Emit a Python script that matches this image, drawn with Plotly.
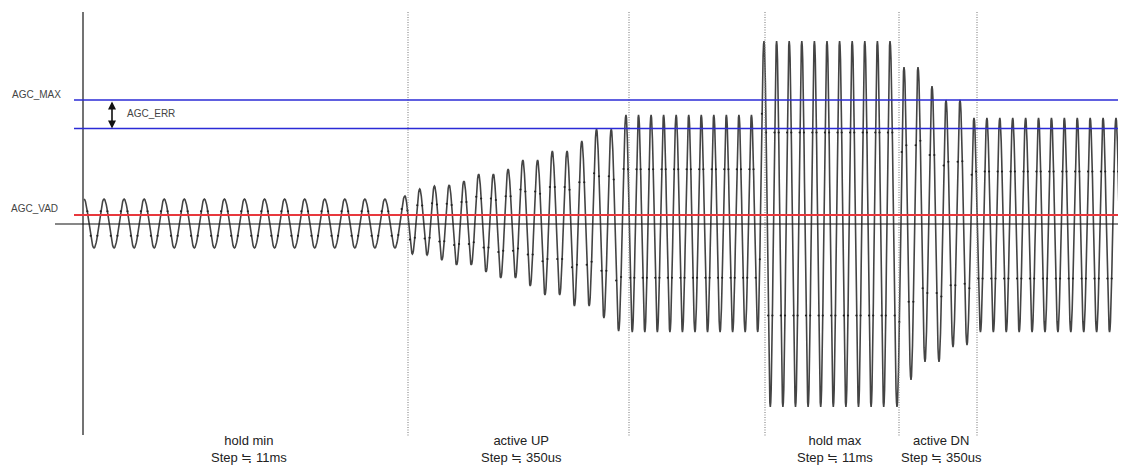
import numpy as np
import plotly.graph_objects as go

# ---------------- data (time in sample ticks, level in display units; 0 = baseline) -------------
SEG_LABELS = ["hold min", "active UP", "hold max", "active DN"]
SEG_STEPS = ["Step ≒ 11ms", "Step ≒ 350us", "Step ≒ 11ms", "Step ≒ 350us"]
SEG_LEFT = [83, 408, 765, 899]
SEG_RIGHT = [408, 629, 899, 977]
MARKER_TIMES = [408, 629, 765, 899, 977]          # dotted phase boundaries

# waveform: time of the first peak of each phase (last entry = final peak)
WAVE_START = [84, 405, 626, 764, 890, 974, 1116]
WAVE_CYCLES = [16, 15, 11, 10, 6, 11]
WAVE_END = 1119
# half-cycle amplitudes per phase (peak, trough, peak, trough, ...) - repeated if shorter
AMP_HOLD_MIN = [25, 24]
AMP_ACTIVE_UP = [28, 30, 35, 31, 38, 36, 39, 41, 43, 41, 50, 48, 50, 54, 55, 54,
                 64, 62, 64, 71, 73, 71, 73, 82, 83, 82, 95, 94, 95, 107]
AMP_HOLD_1 = [109, 108]
AMP_HOLD_MAX = [183, 183]
AMP_ACTIVE_DN = [183, 183, 157, 156, 157, 138, 138, 138, 124, 123, 124, 121]
AMP_SETTLED = [106, 108]

AGC_MAX = 124
AGC_LOW = 95.5
AGC_VAD = 9

# ---------------- build waveform from the extremes ----------------
amps = [AMP_HOLD_MIN, AMP_ACTIVE_UP, AMP_HOLD_1, AMP_HOLD_MAX, AMP_ACTIVE_DN, AMP_SETTLED]
ext_t, ext_v = [], []
for i, a in enumerate(amps):
    t0, t1, n = WAVE_START[i], WAVE_START[i + 1], WAVE_CYCLES[i]
    half = (t1 - t0) / (2 * n)
    for k in range(2 * n):
        sign = 1 if k % 2 == 0 else -1
        ext_t.append(t0 + k * half)
        ext_v.append(sign * a[k % len(a)])
last_half = (WAVE_START[-1] - WAVE_START[-2]) / (2 * WAVE_CYCLES[-1])
ext_t.append(WAVE_START[-1]); ext_v.append(AMP_SETTLED[0])
ext_t.append(WAVE_START[-1] + last_half); ext_v.append(-AMP_SETTLED[1])

xs, ys, mx, my = [], [], [], []
for j in range(len(ext_t) - 1):
    ta, tb, va, vb = ext_t[j], ext_t[j + 1], ext_v[j], ext_v[j + 1]
    s = np.linspace(0, 1, 14, endpoint=False)
    t = ta + (tb - ta) * s
    v = va + (vb - va) * (1 - np.cos(np.pi * s)) / 2
    keep = t <= WAVE_END
    xs.extend(t[keep]); ys.extend(v[keep])
    sm = np.array([1 / 3, 2 / 3])
    tm = ta + (tb - ta) * sm
    vm = va + (vb - va) * (1 - np.cos(np.pi * sm)) / 2
    keepm = tm <= WAVE_END
    mx.extend(tm[keepm]); my.extend(vm[keepm])

FONT = "Liberation Sans, Arial, sans-serif"
fig = go.Figure()
fig.add_trace(go.Scatter(x=xs, y=ys, mode="lines", line=dict(color="#444444", width=1.6),
                         hoverinfo="skip", showlegend=False))
fig.add_trace(go.Scatter(x=mx, y=my, mode="markers", marker=dict(color="#222", size=2.2),
                         hoverinfo="skip", showlegend=False))

shapes = []
# vertical axis
shapes.append(dict(type="line", x0=83, x1=83, y0=212, y1=-211, line=dict(color="#444", width=1.5)))
# dotted boundaries
for mt in MARKER_TIMES:
    shapes.append(dict(type="line", x0=mt, x1=mt, y0=212, y1=-213,
                       line=dict(color="#808080", width=1.1, dash="1px,1.5px")))
# baseline
shapes.append(dict(type="line", x0=55, x1=1120, y0=0, y1=0, line=dict(color="#111", width=1.2), layer="above"))
# levels
shapes.append(dict(type="line", x0=74, x1=1130, y0=AGC_VAD, y1=AGC_VAD,
                   line=dict(color="#e8383d", width=2), layer="above"))
for lv in (AGC_MAX, AGC_LOW):
    shapes.append(dict(type="line", x0=74, x1=1130, y0=lv, y1=lv,
                       line=dict(color="#2b2bd6", width=1.5), layer="above"))

ann = []
ann.append(dict(x=10, y=AGC_MAX + 6, text="AGC_MAX", showarrow=False, xanchor="left", yanchor="middle",
                font=dict(family=FONT, size=10, color="#444")))
ann.append(dict(x=8.5, y=AGC_VAD + 7, text="AGC_VAD", showarrow=False, xanchor="left", yanchor="middle",
                font=dict(family=FONT, size=10, color="#444")))
ann.append(dict(x=125, y=(AGC_MAX + AGC_LOW) / 2 + 1, text="AGC_ERR", showarrow=False, xanchor="left",
                yanchor="middle", font=dict(family=FONT, size=10, color="#444")))
# double arrow
ann.append(dict(x=112, y=AGC_LOW, ax=112, ay=AGC_MAX, axref="x", ayref="y", xref="x", yref="y",
                text="", showarrow=True, arrowhead=2, startarrowhead=2, arrowside="end+start",
                arrowsize=1, startarrowsize=1, arrowwidth=1.6, arrowcolor="#111", standoff=0, startstandoff=0))
for lab, stp, l, r in zip(SEG_LABELS, SEG_STEPS, SEG_LEFT, SEG_RIGHT):
    ann.append(dict(x=(l + r) / 2 + 3, y=-225, text=lab + "<br>" + stp, showarrow=False,
                    xanchor="center", yanchor="middle", align="center",
                    font=dict(family=FONT, size=13, color="#222")))

# the page body adds an 8 px margin, so the figure covers page pixels 8..1126 / 8..465
fig.update_layout(
    width=1118, height=457, margin=dict(l=0, r=0, t=0, b=0),
    paper_bgcolor="white", plot_bgcolor="white",
    xaxis=dict(range=[8, 1126], visible=False, fixedrange=True),
    yaxis=dict(range=[-241, 216], visible=False, fixedrange=True),
    shapes=shapes, annotations=ann, showlegend=False,
)
fig.write_html("out.html")
